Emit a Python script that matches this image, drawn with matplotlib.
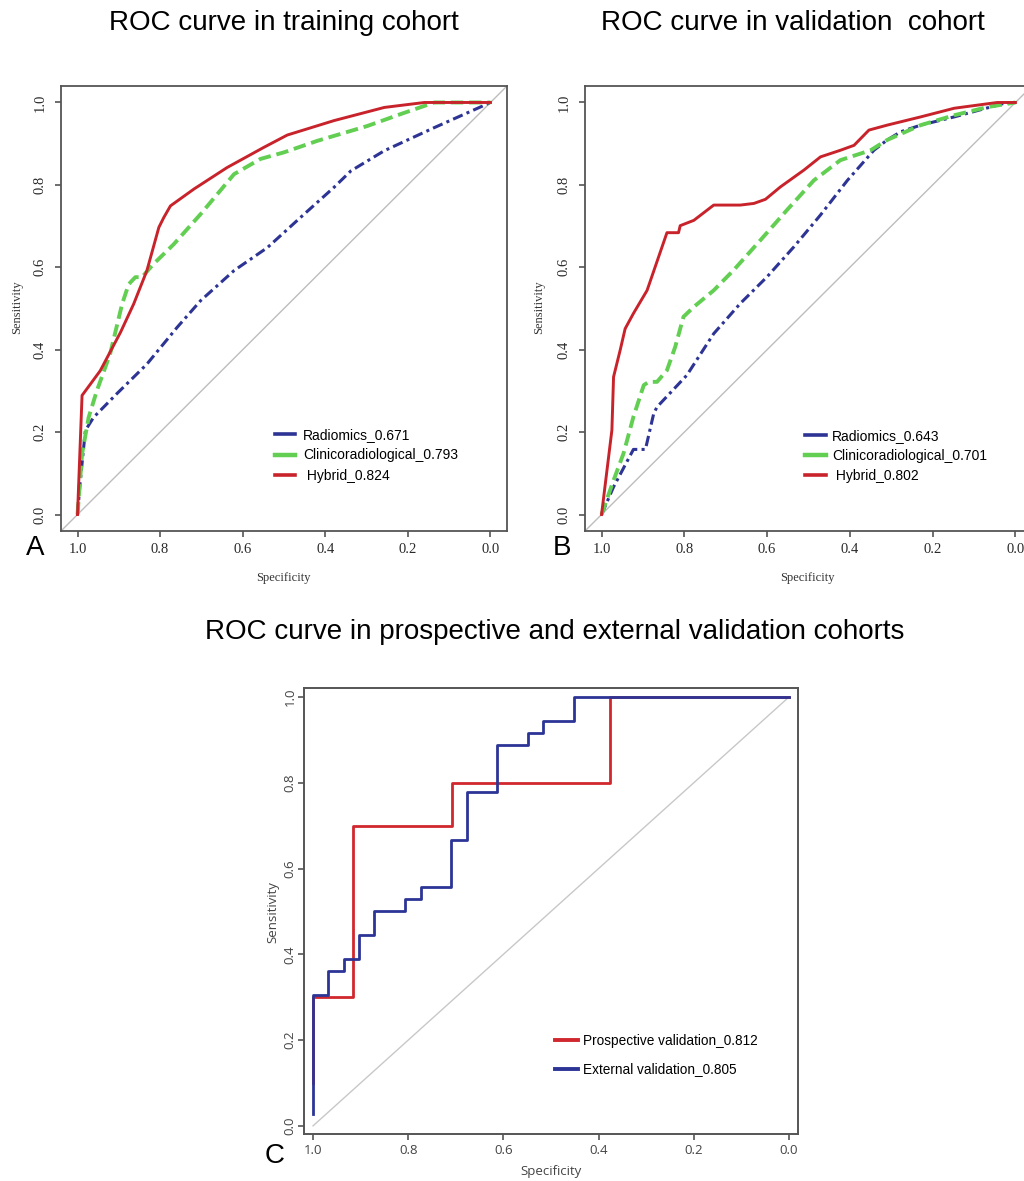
import matplotlib
matplotlib.use("Agg")
import matplotlib.pyplot as plt

# ---------------- data ----------------
# Panel A: training cohort
a_rad_spec = [1.0, 0.994, 0.981, 0.961, 0.905, 0.832, 0.759, 0.702, 0.621, 0.540, 0.460, 0.379, 0.338, 0.257, 0.136, 0.0]
a_rad_sens = [0.0, 0.074, 0.204, 0.236, 0.293, 0.365, 0.454, 0.519, 0.592, 0.648, 0.721, 0.794, 0.834, 0.883, 0.939, 1.0]
a_cli_spec = [1.0, 0.989, 0.973, 0.953, 0.921, 0.892, 0.876, 0.860, 0.844, 0.816, 0.767, 0.702, 0.621, 0.557, 0.500, 0.419, 0.298, 0.217, 0.136, 0.0]
a_cli_sens = [0.0, 0.147, 0.236, 0.301, 0.390, 0.511, 0.559, 0.576, 0.576, 0.608, 0.656, 0.729, 0.826, 0.863, 0.879, 0.907, 0.943, 0.972, 1.0, 1.0]
a_hyb_spec = [1.0, 0.989, 0.945, 0.896, 0.864, 0.832, 0.803, 0.791, 0.775, 0.718, 0.638, 0.549, 0.492, 0.379, 0.257, 0.160, 0.0]
a_hyb_sens = [0.0, 0.289, 0.349, 0.442, 0.511, 0.592, 0.697, 0.721, 0.749, 0.790, 0.842, 0.891, 0.921, 0.956, 0.988, 1.0, 1.0]
a_labels = ["Radiomics_0.671", "Clinicoradiological_0.793", " Hybrid_0.824"]

# Panel B: validation cohort
b_rad_spec = [1.0, 0.971, 0.923, 0.894, 0.874, 0.866, 0.794, 0.729, 0.665, 0.600, 0.535, 0.471, 0.406, 0.342, 0.310, 0.277, 0.229, 0.148, 0.027, 0.0]
b_rad_sens = [0.0, 0.067, 0.158, 0.158, 0.245, 0.261, 0.338, 0.439, 0.512, 0.577, 0.650, 0.727, 0.811, 0.884, 0.909, 0.929, 0.945, 0.965, 0.998, 1.0]
b_cli_spec = [1.0, 0.971, 0.947, 0.923, 0.898, 0.886, 0.866, 0.842, 0.822, 0.802, 0.777, 0.729, 0.681, 0.616, 0.552, 0.487, 0.423, 0.350, 0.310, 0.229, 0.148, 0.067, 0.0]
b_cli_sens = [0.0, 0.083, 0.148, 0.237, 0.314, 0.322, 0.322, 0.350, 0.407, 0.480, 0.504, 0.544, 0.593, 0.666, 0.739, 0.811, 0.860, 0.884, 0.909, 0.945, 0.969, 0.989, 1.0]
b_hyb_spec = [1.0, 0.975, 0.971, 0.955, 0.943, 0.923, 0.890, 0.842, 0.814, 0.810, 0.777, 0.729, 0.665, 0.632, 0.604, 0.568, 0.511, 0.471, 0.423, 0.390, 0.354, 0.310, 0.229, 0.148, 0.044, 0.0]
b_hyb_sens = [0.0, 0.205, 0.334, 0.399, 0.451, 0.488, 0.544, 0.684, 0.684, 0.701, 0.714, 0.751, 0.751, 0.755, 0.765, 0.795, 0.836, 0.868, 0.884, 0.896, 0.933, 0.945, 0.965, 0.986, 1.0, 1.0]
b_labels = ["Radiomics_0.643", "Clinicoradiological_0.701", " Hybrid_0.802"]

# Panel C: prospective and external validation (step ROC)
c_pro_spec = [1.0, 1.0, 0.917, 0.708, 0.375, 0.0]
c_pro_sens = [0.1, 0.3, 0.7, 0.8, 1.0, 1.0]
c_ext_spec = [1.0, 1.0, 0.968, 0.935, 0.903, 0.871, 0.806, 0.774, 0.710, 0.677, 0.613, 0.548, 0.516, 0.452, 0.0]
c_ext_sens = [0.028, 0.306, 0.361, 0.389, 0.444, 0.5, 0.528, 0.556, 0.667, 0.778, 0.889, 0.917, 0.944, 1.0, 1.0]
c_labels = ["Prospective validation_0.812", "External validation_0.805"]

ticks = [1.0, 0.8, 0.6, 0.4, 0.2, 0.0]
tick_labels = ["1.0", "0.8", "0.6", "0.4", "0.2", "0.0"]

titles = ["ROC curve in training cohort", "ROC curve in validation  cohort",
          "ROC curve in prospective and external validation cohorts"]

# ---------------- style ----------------
BLUE = "#2d3494"
GREEN = "#62cf52"
RED = "#c8232b"
FRAME = "#555555"
DIAG = "#bdbdbd"
SANS = ["Liberation Sans", "DejaVu Sans"]
SERIF = ["Liberation Serif", "DejaVu Serif"]
CSANS = ["Open Sans", "DejaVu Sans"]

W, H = 1024, 1181
fig = plt.figure(figsize=(W / 100, H / 100), dpi=100)


def px_axes(left, top, right, bottom):
    return fig.add_axes([left / W, 1 - bottom / H, (right - left) / W, (bottom - top) / H])


def style_frame(ax, lw=1.3):
    for s in ax.spines.values():
        s.set_color(FRAME)
        s.set_linewidth(lw)


def panel_ab(ax, rad, cli, hyb, labels, ylab_x, xlab_x):
    ax.set_xlim(1.04, -0.04)
    ax.set_ylim(-0.04, 1.04)
    ax.axline((1.0, 0.0), (0.0, 1.0), color=DIAG, lw=1.0, zorder=1)
    ax.plot(rad[0], rad[1], color=BLUE, lw=2.2, dashes=(3.4, 1.4, 1.0, 1.4), zorder=3)
    ax.plot(cli[0], cli[1], color=GREEN, lw=2.8, dashes=(3.2, 1.5), zorder=3)
    ax.plot(hyb[0], hyb[1], color=RED, lw=2.1, zorder=4)
    style_frame(ax)
    ax.set_xticks(ticks)
    ax.set_xticklabels(tick_labels, family=SERIF, fontsize=10.5, color="#2a2a2a")
    ax.set_yticks(ticks[::-1])
    ax.set_yticklabels(tick_labels[::-1], family=SERIF, fontsize=10.5, color="#2a2a2a",
                       rotation=90, va="center")
    ax.tick_params(axis="both", direction="out", length=4.5, width=1.2, color=FRAME)
    ax.tick_params(axis="x", pad=4.0)
    ax.tick_params(axis="y", pad=6.0)
    ax.set_xlabel("Specificity", family=SERIF, fontsize=9, color="#333333", va="center")
    ax.set_ylabel("Sensitivity", family=SERIF, fontsize=9, color="#333333", va="center")
    ax.xaxis.set_label_coords(xlab_x, -0.106)
    ax.yaxis.set_label_coords(ylab_x, 0.503)
    hl = [plt.Line2D([], [], color=BLUE, lw=2.6),
          plt.Line2D([], [], color=GREEN, lw=3.2),
          plt.Line2D([], [], color=RED, lw=2.6)]
    return hl


# Panel A
axA = px_axes(61, 86, 507, 531)
hA = panel_ab(axA, (a_rad_spec, a_rad_sens), (a_cli_spec, a_cli_sens), (a_hyb_spec, a_hyb_sens),
              a_labels, -0.099, 0.498)
axA.legend(hA, a_labels, loc="upper left", bbox_to_anchor=(0.48, 0.232), frameon=False,
           prop={"family": SANS, "size": 10}, handlelength=1.45, handletextpad=0.55,
           labelspacing=0.48, borderpad=0, borderaxespad=0)

# Panel B (frame runs past the right image edge)
axB = px_axes(585, 86, 1032, 531)
hB = panel_ab(axB, (b_rad_spec, b_rad_sens), (b_cli_spec, b_cli_sens), (b_hyb_spec, b_hyb_sens),
              b_labels, -0.103, 0.497)
axB.legend(hB, b_labels, loc="upper left", bbox_to_anchor=(0.492, 0.23), frameon=False,
           prop={"family": SANS, "size": 10}, handlelength=1.5, handletextpad=0.45,
           labelspacing=0.45, borderpad=0, borderaxespad=0)

# Panel C
axC = px_axes(304, 688, 798, 1134)
axC.set_xlim(1.019, -0.019)
axC.set_ylim(-0.019, 1.021)
axC.plot([1.0, 0.0], [0.0, 1.0], color="#c8c8c8", lw=1.0, zorder=1)
axC.step(c_pro_spec, c_pro_sens, where="post", color="#d0282e", lw=2.0, zorder=3)
axC.step(c_ext_spec, c_ext_sens, where="post", color="#2c3596", lw=2.0, zorder=4)
style_frame(axC, lw=1.4)
axC.set_xticks(ticks)
axC.set_xticklabels(tick_labels, family=CSANS, fontsize=9.5, color="#444444")
axC.set_yticks(ticks[::-1])
axC.set_yticklabels(tick_labels[::-1], family=CSANS, fontsize=9.5, color="#444444",
                    rotation=90, va="center")
axC.tick_params(axis="both", direction="out", length=4, width=1.2, color=FRAME)
axC.tick_params(axis="x", pad=3.0)
axC.tick_params(axis="y", pad=1.5)
axC.set_xlabel("Specificity", family=CSANS, fontsize=9.5, color="#444444", va="center")
axC.set_ylabel("Sensitivity", family=CSANS, fontsize=9.5, color="#444444", va="center")
axC.xaxis.set_label_coords(0.5, -0.083)
axC.yaxis.set_label_coords(-0.063, 0.498)
hC = [plt.Line2D([], [], color="#d0282e", lw=2.8), plt.Line2D([], [], color="#2c3596", lw=2.8)]
axC.legend(hC, c_labels, loc="upper left", bbox_to_anchor=(0.508, 0.224), frameon=False,
           prop={"family": SANS, "size": 9.8}, handlelength=1.7, handletextpad=0.37,
           labelspacing=1.05, borderpad=0, borderaxespad=0)

# Titles and panel letters
fig.text(284 / W, 1 - 23 / H, titles[0], ha="center", va="center", family=SANS, fontsize=20)
fig.text(793 / W, 1 - 23 / H, titles[1], ha="center", va="center", family=SANS, fontsize=20)
fig.text(555 / W, 1 - 632 / H, titles[2], ha="center", va="center", family=SANS, fontsize=20)
fig.text(35 / W, 1 - 548 / H, "A", ha="center", va="center", family=SANS, fontsize=20)
fig.text(562 / W, 1 - 548 / H, "B", ha="center", va="center", family=SANS, fontsize=20)
fig.text(275 / W, 1 - 1156 / H, "C", ha="center", va="center", family=SANS, fontsize=20)

fig.savefig("out.png", dpi=100)
